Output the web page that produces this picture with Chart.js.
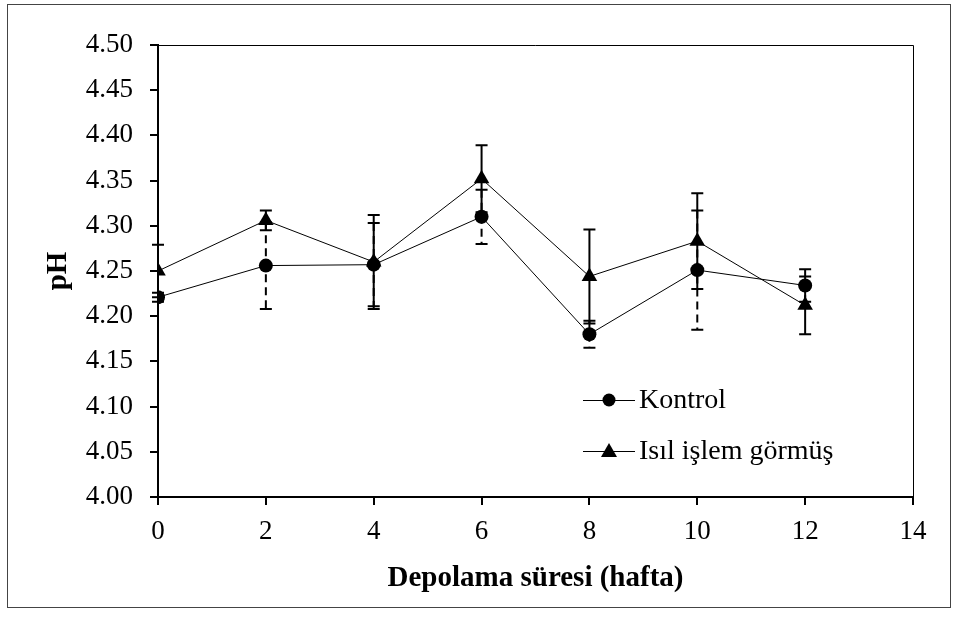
<!DOCTYPE html>
<html>
<head>
<meta charset="utf-8">
<script src="https://cdn.jsdelivr.net/npm/chart.js@4/dist/chart.umd.min.js"></script>
<style>
    html, body { margin: 0; padding: 0; background: #fff; }
    #wrap { position: relative; width: 958px; height: 619px; }
</style>
</head>
<body>
<div id="wrap"><canvas id="c" width="958" height="619"></canvas></div>
<script>
// storage weeks
const weeks = [0, 2, 4, 6, 8, 10, 12];

// Kontrol
const kontrolPH = [4.221, 4.256, 4.257, 4.310, 4.180, 4.251, 4.234];
const kontrolErr = [0.005, 0.048, 0.046, 0.030, 0.015, 0.066, 0.018];

// Isıl işlem görmüş
const isilPH = [4.250, 4.306, 4.260, 4.352, 4.244, 4.283, 4.212];
const isilErr = [0.029, 0.011, 0.052, 0.037, 0.052, 0.053, 0.032];

const SERIF = '"Liberation Serif", "Times New Roman", serif';

const toPoints = (xs, ys) => xs.map((x, i) => ({ x, y: ys[i] }));

// error bars drawn from the chart scales
const errorBarPlugin = {
    id: 'errorBars',
    beforeDatasetsDraw(chart) {
        const { ctx, scales: { x, y } } = chart;
        chart.data.datasets.forEach(ds => {
            ctx.save();
            ctx.strokeStyle = '#000';
            ctx.lineWidth = 2;
            ds.data.forEach((p, i) => {
                const e = ds.errors[i];
                const px = x.getPixelForValue(p.x);
                const top = y.getPixelForValue(p.y + e);
                const bot = y.getPixelForValue(p.y - e);
                ctx.setLineDash(ds.errorDash);
                ctx.beginPath();
                ctx.moveTo(px, top);
                ctx.lineTo(px, bot);
                ctx.stroke();
                ctx.setLineDash([]);
                ctx.beginPath();
                ctx.moveTo(px - 6, top);
                ctx.lineTo(px + 6, top);
                ctx.moveTo(px - 6, bot);
                ctx.lineTo(px + 6, bot);
                ctx.stroke();
            });
            ctx.restore();
        });
    }
};

const framePlugin = {
    id: 'frame',
    beforeDraw(chart) {
        const { ctx, width, height } = chart;
        ctx.save();
        ctx.fillStyle = '#fff';
        ctx.fillRect(0, 0, width, height);
        ctx.restore();
    },
    afterDraw(chart) {
        const { ctx, chartArea: a } = chart;
        ctx.save();
        ctx.strokeStyle = '#444';
        ctx.lineWidth = 1;
        ctx.strokeRect(7.5, 4.5, 943, 603);
        ctx.strokeStyle = '#000';
        ctx.beginPath();
        ctx.moveTo(a.left, a.top + 0.5);
        ctx.lineTo(a.right + 0.5, a.top + 0.5);
        ctx.lineTo(a.right + 0.5, a.bottom);
        ctx.stroke();
        ctx.restore();
    }
};

// legend in the lower right of the plot
const legendPlugin = {
    id: 'customLegend',
    afterDraw(chart) {
        const { ctx } = chart;
        const rows = [400, 451];
        ctx.save();
        chart.data.datasets.forEach((ds, i) => {
            const yy = rows[i];
            ctx.strokeStyle = '#000';
            ctx.lineWidth = 1;
            ctx.beginPath();
            ctx.moveTo(583, yy + 0.5);
            ctx.lineTo(635, yy + 0.5);
            ctx.stroke();
            ctx.fillStyle = '#000';
            ctx.beginPath();
            if (ds.pointStyle === 'triangle') {
                ctx.moveTo(609, yy - 8);
                ctx.lineTo(617, yy + 6);
                ctx.lineTo(601, yy + 6);
                ctx.closePath();
            } else {
                ctx.arc(609, yy, 6.5, 0, Math.PI * 2);
            }
            ctx.fill();
            ctx.font = '28px ' + SERIF;
            ctx.textBaseline = 'middle';
            ctx.textAlign = 'left';
            ctx.fillText(ds.label, 639, yy + 1);
        });
        ctx.restore();
    }
};

new Chart(document.getElementById('c').getContext('2d'), {
    type: 'line',
    data: {
        datasets: [
            {
                label: 'Kontrol',
                data: toPoints(weeks, kontrolPH),
                errors: kontrolErr,
                errorDash: [8, 5],
                borderColor: '#000',
                borderWidth: 1,
                pointStyle: 'circle',
                pointRadius: 7,
                pointBackgroundColor: '#000',
                pointBorderColor: '#000',
                pointBorderWidth: 0,
                tension: 0
            },
            {
                label: 'Isıl işlem görmüş',
                data: toPoints(weeks, isilPH),
                errors: isilErr,
                errorDash: [],
                borderColor: '#000',
                borderWidth: 1,
                pointStyle: 'triangle',
                pointRadius: 9,
                pointBackgroundColor: '#000',
                pointBorderColor: '#000',
                pointBorderWidth: 0,
                tension: 0
            }
        ]
    },
    plugins: [framePlugin, errorBarPlugin, legendPlugin],
    options: {
        responsive: false,
        animation: false,
        events: [],
        layout: {
            padding: { left: 0, top: 45, right: 45, bottom: 0 }
        },
        plugins: {
            legend: { display: false },
            tooltip: { enabled: false }
        },
        scales: {
            x: {
                type: 'linear',
                min: 0,
                max: 14,
                ticks: {
                    stepSize: 2,
                    color: '#000',
                    padding: 11,
                    maxRotation: 0,
                    font: { family: SERIF, size: 27 }
                },
                grid: {
                    drawOnChartArea: false,
                    drawTicks: true,
                    tickLength: 8,
                    color: '#000',
                    lineWidth: 2
                },
                border: { color: '#000', width: 2 },
                title: {
                    display: true,
                    text: 'Depolama süresi (hafta)',
                    color: '#000',
                    font: { family: SERIF, size: 29, weight: 'bold' },
                    padding: { top: 0, bottom: 23 }
                },
                afterFit(scale) { scale.height = 122; }
            },
            y: {
                min: 4.0,
                max: 4.5,
                ticks: {
                    stepSize: 0.05,
                    color: '#000',
                    padding: 17,
                    font: { family: SERIF, size: 27 },
                    callback: v => v.toFixed(2)
                },
                grid: {
                    drawOnChartArea: false,
                    drawTicks: true,
                    tickLength: 8,
                    color: '#000',
                    lineWidth: 2
                },
                border: { color: '#000', width: 2 },
                title: {
                    display: true,
                    text: 'pH',
                    color: '#000',
                    font: { family: SERIF, size: 29, weight: 'bold' },
                    padding: { top: 41, bottom: 0 }
                },
                afterFit(scale) { scale.width = 158; }
            }
        }
    }
});
</script>
</body>
</html>
